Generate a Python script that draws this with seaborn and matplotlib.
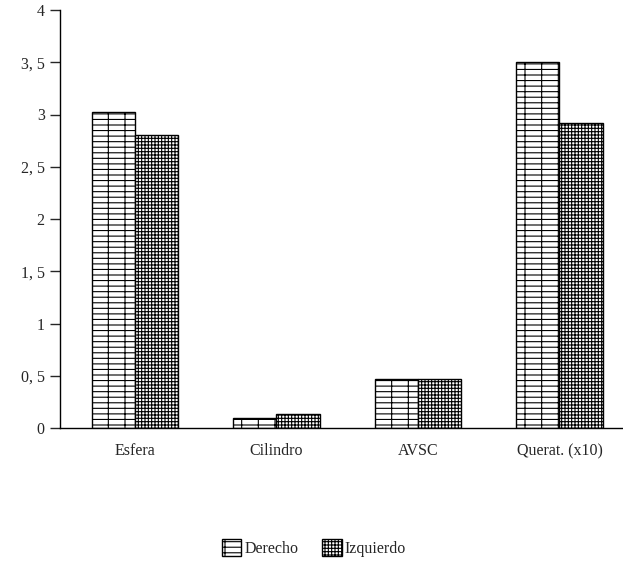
import seaborn as sns
import matplotlib.pyplot as plt
import pandas as pd
from matplotlib.patches import Patch

categorias = ["Esfera", "Cilindro", "AVSC", "Querat. (x10)"]
derecho = [3.02, 0.10, 0.47, 3.50]
izquierdo = [2.80, 0.13, 0.47, 2.92]
series = ["Derecho", "Izquierdo"]
yticks = [0, 0.5, 1, 1.5, 2, 2.5, 3, 3.5, 4]
ylabels = ["0", "0, 5", "1", "1, 5", "2", "2, 5", "3", "3, 5", "4"]

df = pd.DataFrame({
    "categoria": categorias * 2,
    "valor": derecho + izquierdo,
    "serie": [series[0]] * 4 + [series[1]] * 4,
})

sns.set_style("white")
plt.rcParams["font.family"] = ["Liberation Serif", "DejaVu Serif"]
plt.rcParams["hatch.linewidth"] = 0.8

fig = plt.figure(figsize=(6.23, 5.66), dpi=100)
ax = fig.add_axes([60 / 623, 1 - 428 / 566, 1 - 60 / 623, 418 / 566])

sns.barplot(data=df, x="categoria", y="valor", hue="serie", order=categorias,
            hue_order=series, width=0.61, gap=0, ax=ax,
            palette=["white", "white"], edgecolor="black", linewidth=1,
            legend=False)

# brick-like and fine grid fills
hatches = ["--+", "+++++"]
for cont, h in zip(ax.containers, hatches):
    for bar in cont:
        bar.set_hatch(h)
        bar.set_facecolor("white")
        bar.set_edgecolor("black")

ax.set_ylim(0, 4)
ax.set_xlim(-0.53, 3.449)
ax.set_yticks(yticks)
ax.set_yticklabels(ylabels, fontsize=11.5)
ax.set_xticks(range(4))
ax.set_xticklabels(categorias, fontsize=11.5)
ax.set_xticks([-0.53, 0.48, 1.48, 2.48], minor=True)
ax.tick_params(axis="x", which="major", length=0, pad=11)
ax.tick_params(axis="x", which="minor", length=4, direction="out", width=1)
ax.tick_params(axis="y", length=7, direction="out", width=1, left=True, pad=4)
ax.set_xlabel("")
ax.set_ylabel("")
for s in ["top", "right"]:
    ax.spines[s].set_visible(False)
for s in ["left", "bottom"]:
    ax.spines[s].set_color("black")
    ax.spines[s].set_linewidth(1)

handles = [Patch(facecolor="white", edgecolor="black", hatch=h, label=s)
           for h, s in zip(hatches, series)]
fig.legend(handles=handles, loc="center", bbox_to_anchor=(314 / 623, 1 - 548 / 566),
           ncol=2, frameon=False, fontsize=11.5, handlelength=1.2, handleheight=1.2,
           handletextpad=0.2, columnspacing=1.5)

fig.savefig("out.png", dpi=100)
